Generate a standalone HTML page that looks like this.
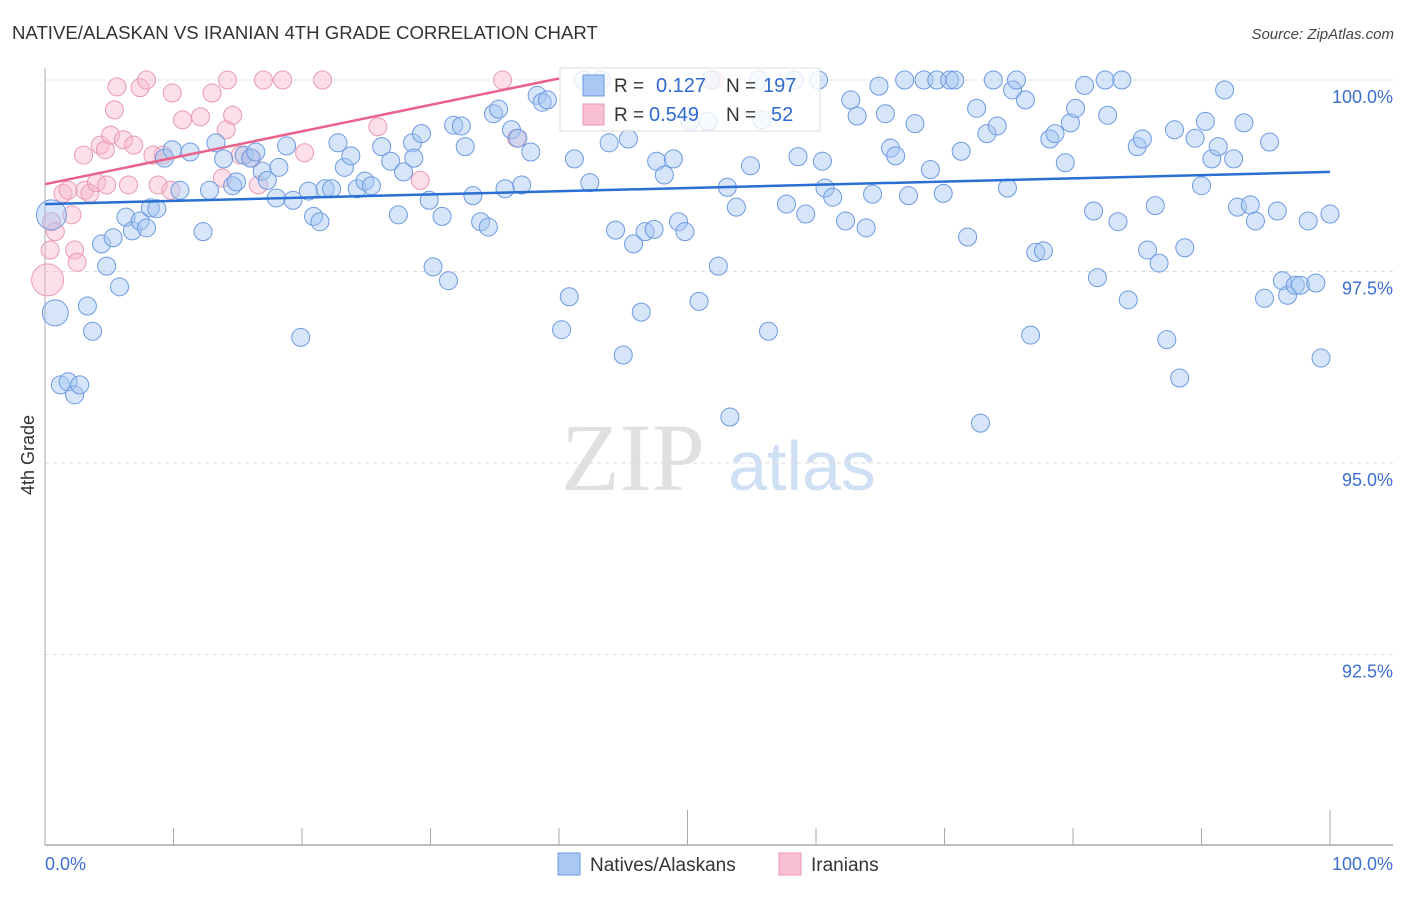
<!DOCTYPE html>
<html><head><meta charset="utf-8"><style>
body{margin:0;background:#fff;width:1406px;height:892px;overflow:hidden;font-family:"Liberation Sans",sans-serif}
</style></head><body>
<svg id="chart" width="1406" height="892" xmlns="http://www.w3.org/2000/svg" font-family="Liberation Sans, sans-serif">
<text x="12" y="39" font-size="18.6" fill="#333">NATIVE/ALASKAN VS IRANIAN 4TH GRADE CORRELATION CHART</text>
<text x="1394" y="39" font-size="15" fill="#444" text-anchor="end" font-style="italic">Source: ZipAtlas.com</text>
<text transform="translate(34,455) rotate(-90)" font-size="18" fill="#333" text-anchor="middle">4th Grade</text>
<g>
<text x="633" y="490" font-size="96" fill="#e0e0e0" font-family="Liberation Serif, serif" text-anchor="middle">ZIP</text>
<text x="802" y="490" font-size="70" fill="#d0e0f4" text-anchor="middle">atlas</text>
</g>
<g id="grid"></g><g id="axes"></g><g id="pts"></g><g id="trends"></g><g id="legend"></g>
</svg>
<script>
const xBlue=[0.5,0.8,1.2,1.8,2.3,2.7,3.3,3.7,4.4,4.8,5.3,5.8,6.3,6.8,7.4,7.9,8.2,8.7,9.3,9.9,10.5,11.3,12.3,12.8,13.3,13.9,14.6,14.9,15.5,16.0,16.4,16.9,17.3,18.0,18.2,18.8,19.3,19.9,20.5,20.9,21.4,21.8,22.3,22.8,23.3,23.8,24.3,24.9,25.4,26.2,26.9,27.5,27.9,28.6,28.7,29.3,29.9,30.2,30.9,31.4,31.8,32.4,32.7,33.3,33.9,34.5,34.9,35.3,35.8,36.3,36.8,37.1,37.8,38.3,38.7,39.1,40.2,40.8,41.2,41.9,42.4,43.3,43.9,44.4,45.0,45.4,45.8,46.4,46.7,47.4,47.6,48.2,48.9,49.3,49.8,50.2,50.9,51.6,51.8,52.4,53.1,53.3,53.8,54.9,55.5,55.8,56.3,57.7,58.3,58.6,59.2,60.2,60.5,60.7,61.3,62.3,62.7,63.2,63.9,64.4,64.9,65.4,65.8,66.2,66.9,67.2,67.7,68.4,68.9,69.4,69.9,70.4,70.8,71.3,71.8,72.5,72.8,73.3,73.8,74.1,74.9,75.3,75.6,76.3,76.7,77.1,77.7,78.2,78.6,79.4,79.8,80.2,80.9,81.6,81.9,82.5,82.7,83.5,83.8,84.3,85.0,85.4,85.8,86.4,86.7,87.3,87.9,88.3,88.7,89.5,90.0,90.3,90.8,91.3,91.8,92.5,92.8,93.3,93.8,94.2,94.9,95.3,95.9,96.3,96.7,97.3,97.7,98.3,98.9,99.3,100];
const yBlue=[98.24,96.96,96.02,96.06,95.89,96.02,97.05,96.72,97.86,97.57,97.94,97.30,98.21,98.03,98.16,98.07,98.33,98.32,98.98,99.09,98.56,99.06,98.02,98.56,99.18,98.97,98.62,98.67,99.02,98.98,99.06,98.81,98.69,98.46,98.86,99.14,98.43,96.64,98.55,98.22,98.15,98.58,98.58,99.18,98.86,99.01,98.58,98.68,98.62,99.13,98.94,98.24,98.80,99.18,98.98,99.30,98.43,97.56,98.22,97.38,99.41,99.40,99.13,98.49,98.15,98.08,99.56,99.62,98.58,99.35,99.24,98.63,99.06,99.80,99.71,99.74,96.74,97.17,98.97,100,98.66,100,99.18,98.04,96.41,99.23,97.86,96.97,98.02,98.05,98.94,98.76,98.97,98.15,98.02,99.46,97.11,99.46,100,97.57,98.60,95.60,98.34,98.88,100,99.48,96.72,98.38,100,99.00,98.25,100,98.94,98.59,98.47,98.16,99.74,99.53,98.07,98.51,99.92,99.56,99.11,99.01,100,98.49,99.43,100,98.83,100,98.52,100,100,99.07,97.95,99.63,95.52,99.30,100,99.40,98.59,99.87,100,99.74,96.67,97.75,97.77,99.23,99.30,98.92,99.44,99.63,99.93,98.29,97.42,100,99.54,98.15,100,97.13,99.13,99.23,97.78,98.36,97.61,96.61,99.35,96.11,97.81,99.24,98.62,99.46,98.97,99.13,99.87,98.97,98.34,99.44,98.37,98.16,97.15,99.19,98.29,97.38,97.19,97.32,97.32,98.16,97.35,96.37,98.25];
const xPink=[0.2,0.5,0.8,0.4,1.4,1.8,2.1,2.3,2.5,3.0,3.1,3.5,4.0,4.3,4.7,4.8,5.1,5.6,5.4,6.1,6.5,6.9,7.4,7.9,8.4,8.8,9.2,9.9,9.8,10.7,12.1,13.0,13.8,14.1,14.6,14.2,15.2,16.1,16.6,17.0,18.5,20.2,21.6,25.9,29.2,35.6,36.7,52.1];
const yPink=[97.39,98.15,98.02,97.78,98.52,98.56,98.24,97.78,97.62,99.02,98.56,98.52,98.66,99.15,99.09,98.63,99.28,99.91,99.61,99.22,98.63,99.15,99.90,100,99.02,98.63,99.02,99.83,98.56,99.48,99.52,99.83,98.72,99.35,99.54,100,99.02,98.98,98.63,100,100,99.05,100,99.39,98.69,100,99.24,100];
const trendBlueX=[0,100], trendBlueY=[98.38,98.80];
const trendPinkX=[0,40], trendPinkY=[98.64,100.02];
const yTicks=[100,97.5,95,92.5];
const yTickLabels=["100.0%","97.5%","95.0%","92.5%"];
const xTicks=[0,10,20,30,40,50,60,70,80,90,100];
const legendR=["0.127","0.549"], legendN=["197","52"];
const bigBlue={0:15,1:13}, bigPink={0:16};

const NS="http://www.w3.org/2000/svg";
const X=v=>45+v*12.85, Y=v=>80+(100-v)*76.6;
function mk(tag,attrs,parent,txt){const e=document.createElementNS(NS,tag);for(const k in attrs)e.setAttribute(k,attrs[k]);if(txt!=null)e.textContent=txt;parent.appendChild(e);return e;}
const grid=document.getElementById('grid'),axes=document.getElementById('axes'),pts=document.getElementById('pts'),tr=document.getElementById('trends'),lg=document.getElementById('legend');
yTicks.forEach((t,i)=>{
 const l=mk('line',{x1:45,x2:1393,y1:Y(t),y2:Y(t),stroke:'#ddd','stroke-dasharray':'4,4'},grid);
 
 
 const tx=mk('text',{x:1393,y:Y(t)+23,'font-size':18,fill:'#3d6fd0','text-anchor':'end'},axes,yTickLabels[i]);
 
 
});
const ya=mk('line',{x1:45,x2:45,y1:68,y2:845,stroke:'#aaa'},axes);


const xa=mk('line',{x1:45,x2:1393,y1:845,y2:845,stroke:'#aaa','stroke-width':1.5},axes);


xTicks.forEach(t=>{
 const tall=(t===50||t===100);
 const l=mk('line',{x1:X(t),x2:X(t),y1:tall?810:828,y2:845,stroke:'#aaa'},axes);
 
 
});
const xl0=mk('text',{x:45,y:870,'font-size':18,fill:'#3d6fd0'},axes,'0.0%');


const xl1=mk('text',{x:1393,y:870,'font-size':18,fill:'#3d6fd0','text-anchor':'end'},axes,'100.0%');



xPink.forEach((x,i)=>{
 const c=mk('circle',{cx:X(x),cy:Y(yPink[i]),r:bigPink[i]||9,fill:'rgba(248,185,203,0.45)',stroke:'#e99ab3','stroke-width':1},pts);
 
 
});
xBlue.forEach((x,i)=>{
 const c=mk('circle',{cx:X(x),cy:Y(yBlue[i]),r:bigBlue[i]||9,fill:'rgba(165,198,242,0.45)',stroke:'#6d9ae0','stroke-width':1},pts);
 
 
});
const tb=mk('line',{x1:X(trendBlueX[0]),y1:Y(trendBlueY[0]),x2:X(trendBlueX[1]),y2:Y(trendBlueY[1]),stroke:'#2a6fd4','stroke-width':2.5},tr);


const tp=mk('line',{x1:X(trendPinkX[0]),y1:Y(trendPinkY[0]),x2:X(trendPinkX[1]),y2:Y(trendPinkY[1]),stroke:'#e8628a','stroke-width':2.5},tr);



const box=mk('rect',{x:560,y:68,width:260,height:63,fill:'rgba(255,255,255,0.8)',stroke:'#ddd'},lg);


const cols=[['#a9c8f3','#6d9ae0'],['#f8c0d0','#e99ab3']];
[0,1].forEach(i=>{
 const yy=85+i*29;
 const s=mk('rect',{x:583,y:yy-10,width:21,height:21,fill:cols[i][0],stroke:cols[i][1]},lg);
 
 
 const t1=mk('text',{x:614,y:yy+7,'font-size':19,fill:'#333'},lg,'R = ');
 
 
 const t2=mk('text',{x:i?649:656,y:yy+7,'font-size':20,fill:'#2f6ad0'},lg,legendR[i]);
 
 
 const t3=mk('text',{x:726,y:yy+7,'font-size':19,fill:'#333'},lg,'N = ');
 
 
 const t4=mk('text',{x:i?771:763,y:yy+7,'font-size':20,fill:'#2f6ad0'},lg,legendN[i]);
 
 
});
const names=['Natives/Alaskans','Iranians'];const lx=[558,779];
names.forEach((n,i)=>{
 const s=mk('rect',{x:lx[i],y:853,width:22,height:22,fill:cols[i][0],stroke:cols[i][1]},axes);
 
 
 const t=mk('text',{x:lx[i]+32,y:871,'font-size':19,fill:'#333'},axes,n);
 
 
});
</script>
</body></html>
